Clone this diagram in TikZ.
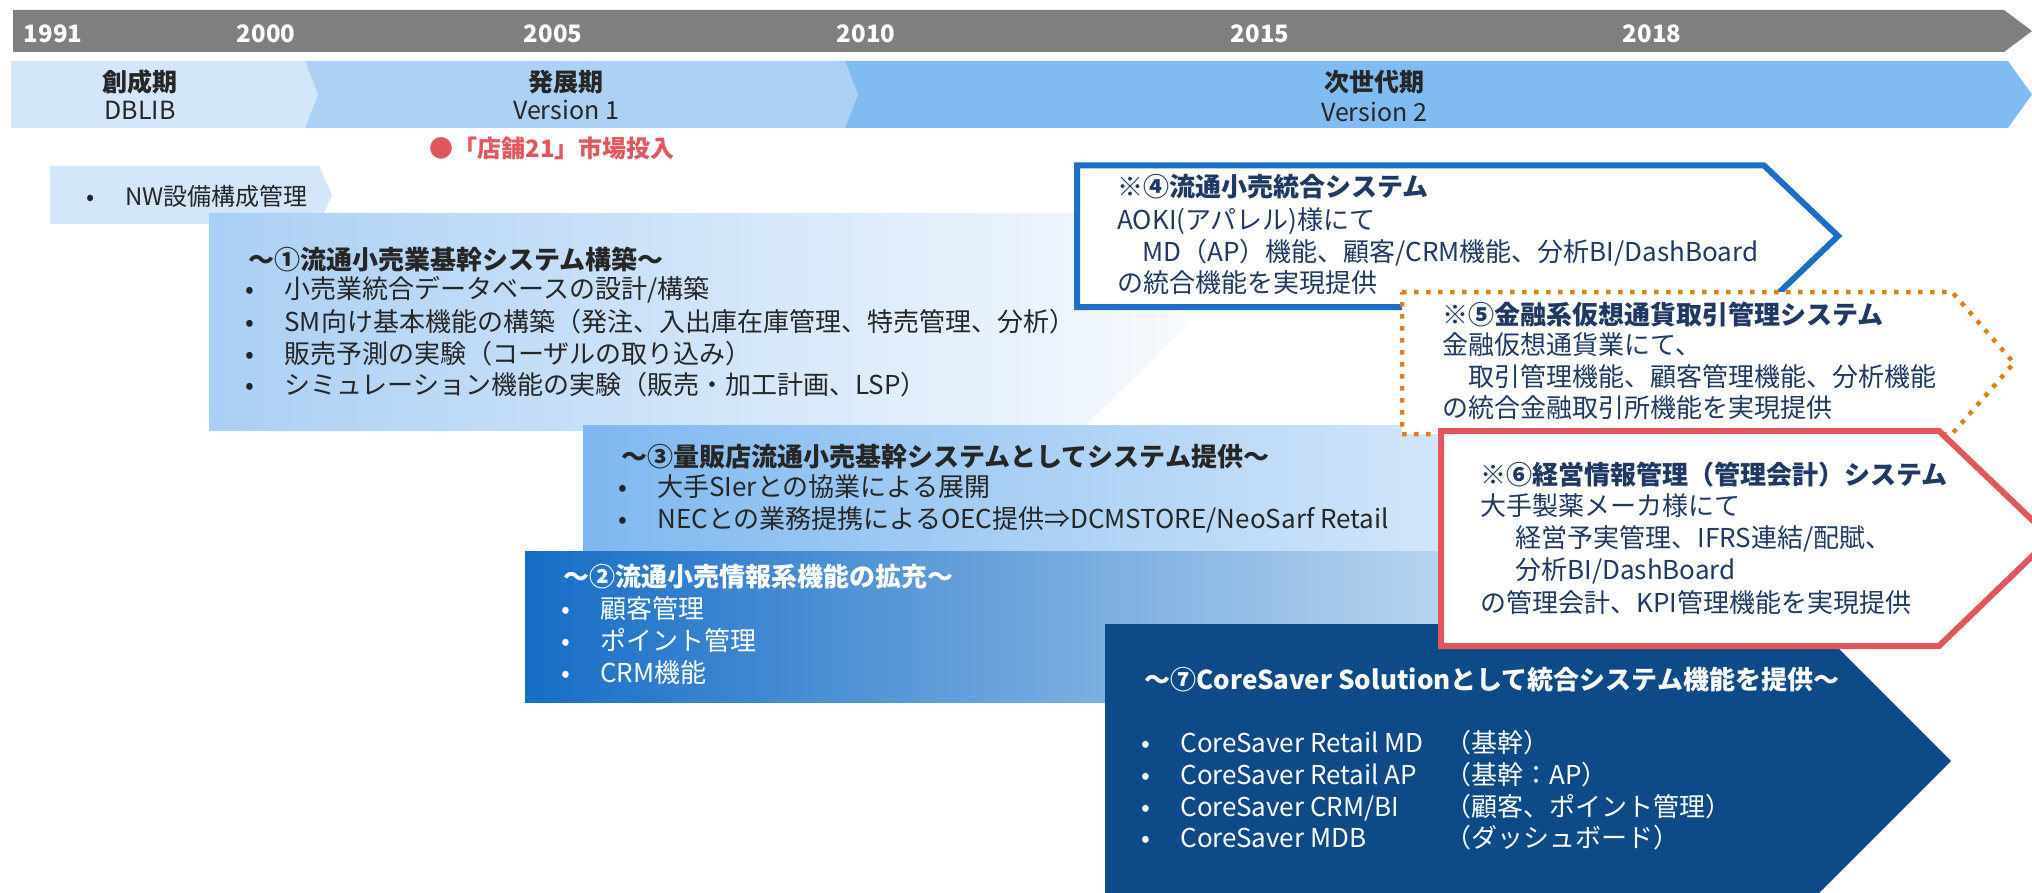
\documentclass[tikz,border=0pt]{standalone}
\usepackage{fontspec}
\setmainfont{Noto Sans CJK JP}
\usetikzlibrary{positioning}

\definecolor{bargray}{HTML}{7F7F7F}
\definecolor{phaseA}{HTML}{D3E6FA}
\definecolor{phaseB}{HTML}{ACD1F5}
\definecolor{phaseC}{HTML}{80BBF2}
\definecolor{navy}{HTML}{0D4A87}
\definecolor{darknavy}{HTML}{1F3864}
\definecolor{lineblue}{HTML}{1C6FC5}
\definecolor{lineorange}{HTML}{D9821C}
\definecolor{linered}{HTML}{E0585E}
\definecolor{ink}{HTML}{262626}
\definecolor{oneL}{HTML}{AACFF4}
\definecolor{oneR}{HTML}{F7FAFE}
\definecolor{threeL}{HTML}{7FB8EF}
\definecolor{threeR}{HTML}{D2E6FA}
\definecolor{twoL}{HTML}{166DC6}
\definecolor{twoR}{HTML}{B8D5F0}

\newcommand{\itm}{\makebox[19.5pt][l]{•}}

\tikzset{
every node/.style={inner sep=0pt, anchor=west}, % text lines are placed by their left end
ln/.style={font=\fontsize{13pt}{16pt}\selectfont, text height=10.8pt, text depth=0.9pt, text=ink}, % one line of box text
ttl/.style={ln, font=\fontsize{13pt}{16pt}\selectfont\bfseries}, % title line of a box
year/.style={anchor=center, text=white, font=\fontsize{12pt}{14pt}\selectfont\bfseries, text height=10pt, text depth=0.8pt},
phase/.style={anchor=center, text=ink, font=\fontsize{12.5pt}{15pt}\selectfont\bfseries, text height=10.4pt, text depth=0.9pt},
version/.style={phase, font=\fontsize{12.5pt}{15pt}\selectfont},
note/.style={ln, text=darknavy}, % text in the outlined boxes
notettl/.style={ttl, text=darknavy},
frame/.style={fill=white, line width=3pt, line join=miter}, % outlined arrow boxes
}

\begin{document}
\begin{tikzpicture}[x=0.5pt, y=-0.5pt]
\useasboundingbox (0,0) rectangle (2032,893);
\clip (0,0) rectangle (2032,893);

% time bar
\fill[bargray] (13,10) -- (2004,10) -- (2032,31) -- (2004,52) -- (13,52) -- cycle;
\node[year] (y1991) at (53,33) {1991};
\node[year] (y2000) at (266,33) {2000};
\node[year] (y2005) at (553,33) {2005};
\node[year] (y2010) at (866,33) {2010};
\node[year] (y2015) at (1260,33) {2015};
\node[year] (y2018) at (1652,33) {2018};

% phases
\fill[phaseA] (11,61) -- (305,61) -- (318,94.5) -- (305,128) -- (11,128) -- cycle;
\fill[phaseB] (305,61) -- (845,61) -- (858,94.5) -- (845,128) -- (305,128) -- (318,94.5) -- cycle;
\fill[phaseC] (845,61) -- (2008,61) -- (2032,94.5) -- (2008,128) -- (845,128) -- (858,94.5) -- cycle;
\node[phase] (genesis) at (140,82) {創成期};
\node[version, below=2.5pt of genesis] (dblib) {DBLIB};
\node[phase] (growth) at (566,82) {発展期};
\node[version, below=2.5pt of growth] (ver1) {Version 1};
\node[phase] (nextgen) at (1374,82) {次世代期};
\node[version, below=3.5pt of nextgen] (ver2) {Version 2};

\node[ln, text=linered, font=\fontsize{12pt}{14pt}\selectfont\bfseries] (launch) at (429,148) {●「店舗21」市場投入};

% NW box
\fill[phaseA] (50,166) -- (319,166) -- (332,195) -- (319,224) -- (50,224) -- cycle;
\node[ln, font=\fontsize{12pt}{14pt}\selectfont] (nw) at (86,196) {\itm NW設備構成管理};

% box 1
\path[left color=oneL, right color=oneR] (209,213) -- (1080,213) -- (1190,322) -- (1080,431) -- (209,431) -- cycle;
\node[ttl] (b1) at (248,260) {～①流通小売業基幹システム構築～};
\node[ln] (b1a) at (245,289) {\itm 小売業統合データベースの設計/構築};
\node[ln] (b1b) at (245,322) {\itm SM向け基本機能の構築（発注、入出庫在庫管理、特売管理、分析）};
\node[ln] (b1c) at (245,354) {\itm 販売予測の実験（コーザルの取り込み）};
\node[ln] (b1d) at (245,385) {\itm シミュレーション機能の実験（販売・加工計画、LSP）};

% box 3
\path[left color=threeL, right color=threeR] (583,425) rectangle (1445,551);
\node[ttl] (b3) at (621,457) {～③量販店流通小売基幹システムとしてシステム提供～};
\node[ln] (b3a) at (618,487) {\itm 大手SIerとの協業による展開};
\node[ln] (b3b) at (618,519) {\itm NECとの業務提携によるOEC提供⇒DCMSTORE/NeoSarf Retail};

% box 2
\path[left color=twoL, right color=twoR] (525,551) rectangle (1445,702);
\node[ttl, text=white] (b2) at (563,577) {～②流通小売情報系機能の拡充～};
\node[ln, text=white] (b2a) at (561,609) {\itm 顧客管理};
\node[ln, text=white] (b2b) at (561,641) {\itm ポイント管理};
\node[ln, text=white] (b2c) at (561,673) {\itm CRM機能};

% box 7
\fill[navy] (1105,624) -- (1814,624) -- (1951,761) -- (1814,898) -- (1105,898) -- cycle;
\node[ttl, text=white] (b7) at (1144,680) {～⑦CoreSaver Solutionとして統合システム機能を提供～};
\node[ln, text=white] (b7a) at (1141,743) {\itm\makebox[132.5pt][l]{CoreSaver Retail MD}（基幹）};
\node[ln, text=white] (b7b) at (1141,775) {\itm\makebox[132.5pt][l]{CoreSaver Retail AP}（基幹：AP）};
\node[ln, text=white] (b7c) at (1141,807) {\itm\makebox[132.5pt][l]{CoreSaver CRM/BI}（顧客、ポイント管理）};
\node[ln, text=white] (b7d) at (1141,838) {\itm\makebox[132.5pt][l]{CoreSaver MDB}（ダッシュボード）};

% box 4
\draw[frame, draw=lineblue] (1077,165.5) -- (1764,165.5) -- (1838,236) -- (1764,307) -- (1077,307) -- cycle;
\node[notettl] (b4) at (1117,187) {※④流通小売統合システム};
\node[note] (b4a) at (1117,220) {AOKI(アパレル)様にて};
\node[note] (b4b) at (1142,252) {MD（AP）機能、顧客/CRM機能、分析BI/DashBoard};
\node[note] (b4c) at (1117,283) {の統合機能を実現提供};

% box 5
\draw[frame, draw=lineorange, line width=2.25pt, dash pattern=on 2.25pt off 3.75pt] (1402,292) -- (1952,292) -- (2014,363) -- (1952,434) -- (1402,434) -- cycle;
\node[notettl] (b5) at (1442,315) {※⑤金融系仮想通貨取引管理システム};
\node[note] (b5a) at (1442,345) {金融仮想通貨業にて、};
\node[note] (b5b) at (1468,377) {取引管理機能、顧客管理機能、分析機能};
\node[note] (b5c) at (1442,408) {の統合金融取引所機能を実現提供};

% box 6
\draw[frame, draw=linered] (1441,431) -- (1939,431) -- (2051,538) -- (1939,646) -- (1441,646) -- cycle;
\node[notettl] (b6) at (1480,475) {※⑥経営情報管理（管理会計）システム};
\node[note] (b6a) at (1480,506) {大手製薬メーカ様にて};
\node[note] (b6b) at (1515,538) {経営予実管理、IFRS連結/配賦、};
\node[note] (b6c) at (1515,570) {分析BI/DashBoard};
\node[note] (b6d) at (1480,603) {の管理会計、KPI管理機能を実現提供};
\end{tikzpicture}
\end{document}
